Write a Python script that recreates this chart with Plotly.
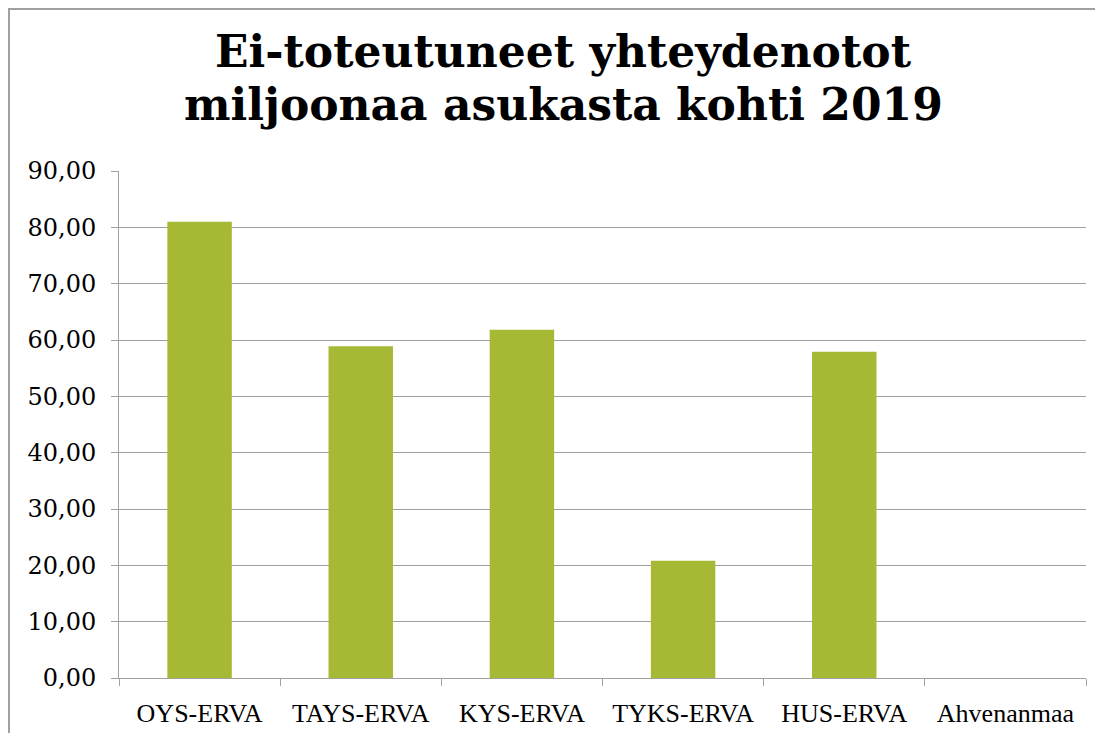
import plotly.graph_objects as go

categories = ["OYS-ERVA", "TAYS-ERVA", "KYS-ERVA", "TYKS-ERVA", "HUS-ERVA", "Ahvenanmaa"]
values = [81.0, 58.9, 61.8, 20.8, 57.9, 0.0]
y_ticks = [0, 10, 20, 30, 40, 50, 60, 70, 80, 90]
title_lines = ["Ei-toteutuneet yhteydenotot", "miljoonaa asukasta kohti 2019"]

# page has an 8px body margin, so figure coords = page coords - 8
W, H = 1095, 725
L, R, T, B = 111, 17, 163, 55
pw, ph = W - L - R, H - T - B

def px(x):
    return (x - L) / pw

def py(y):
    return (H - B - y) / ph

fig = go.Figure(go.Bar(
    x=categories, y=values,
    marker=dict(color="#A7B934", line=dict(width=0)),
))

title_font = dict(family="DejaVu Serif", size=44, color="black", weight="bold")
annotations = [
    dict(text=title_lines[0], xref="paper", yref="paper", x=px(555), y=py(44),
         xanchor="center", yanchor="middle", showarrow=False, font=title_font),
    dict(text=title_lines[1], xref="paper", yref="paper", x=px(555), y=py(96),
         xanchor="center", yanchor="middle", showarrow=False, font=title_font),
]

fig.update_layout(
    width=W, height=H,
    margin=dict(l=L, r=R, t=T, b=B, autoexpand=False),
    paper_bgcolor="white", plot_bgcolor="white",
    separators=",.",
    bargap=0.6,
    showlegend=False,
    annotations=annotations,
    xaxis=dict(
        type="category",
        automargin=False,
        tickson="boundaries",
        ticks="outside", ticklen=7, tickcolor="#a0a0a0", tickwidth=1,
        showline=True, linecolor="#a0a0a0", linewidth=1,
        showgrid=False,
        ticklabelstandoff=12,
        tickfont=dict(family="Liberation Serif", size=26, color="black"),
    ),
    yaxis=dict(
        range=[0, 90],
        automargin=False,
        tickvals=y_ticks,
        tickformat=".2f",
        ticks="outside", ticklen=7, tickcolor="#a0a0a0", tickwidth=1,
        showline=True, linecolor="#a0a0a0", linewidth=1,
        showgrid=True, gridcolor="#a0a0a0", gridwidth=1,
        zeroline=False,
        ticklabelstandoff=10,
        tickfont=dict(family="DejaVu Serif", size=24, color="black"),
    ),
    shapes=[
        dict(type="path", xref="paper", yref="paper",
             path=f"M {px(1)},{py(740)} L {px(1)},{py(1)} L {px(1110)},{py(1)}",
             line=dict(color="#a0a0a0", width=2)),
    ],
)

fig.write_html("out.html")
